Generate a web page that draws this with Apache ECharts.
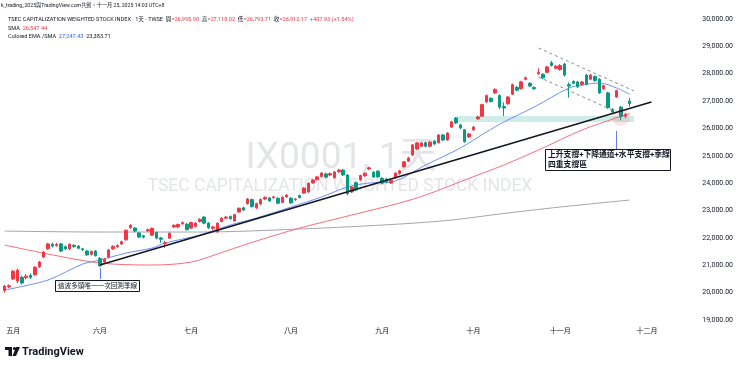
<!DOCTYPE html>
<html><head><meta charset="utf-8">
<script src="https://cdn.jsdelivr.net/npm/echarts/dist/echarts.min.js"></script>
<style>html,body{margin:0;padding:0;background:#fff}#c{width:740px;height:367px}</style>
</head><body><div id="c"></div>
<script>
// ---- data ----
const dates = ['2025-04-29','2025-04-30',
'2025-05-02','2025-05-05','2025-05-06','2025-05-07','2025-05-08','2025-05-09','2025-05-12','2025-05-13','2025-05-14','2025-05-15','2025-05-16','2025-05-19','2025-05-20','2025-05-21','2025-05-22','2025-05-23','2025-05-26','2025-05-27','2025-05-28','2025-05-29',
'2025-06-02','2025-06-03','2025-06-04','2025-06-05','2025-06-06','2025-06-09','2025-06-10','2025-06-11','2025-06-12','2025-06-13','2025-06-16','2025-06-17','2025-06-18','2025-06-19','2025-06-20','2025-06-23','2025-06-24','2025-06-25','2025-06-26','2025-06-27','2025-06-30',
'2025-07-01','2025-07-02','2025-07-03','2025-07-04','2025-07-07','2025-07-08','2025-07-09','2025-07-10','2025-07-11','2025-07-14','2025-07-15','2025-07-16','2025-07-17','2025-07-18','2025-07-21','2025-07-22','2025-07-23','2025-07-24','2025-07-25','2025-07-28','2025-07-29','2025-07-30','2025-07-31',
'2025-08-01','2025-08-04','2025-08-05','2025-08-06','2025-08-07','2025-08-08','2025-08-11','2025-08-12','2025-08-13','2025-08-14','2025-08-15','2025-08-18','2025-08-19','2025-08-20','2025-08-21','2025-08-22','2025-08-25','2025-08-26','2025-08-27','2025-08-28','2025-08-29',
'2025-09-01','2025-09-02','2025-09-03','2025-09-04','2025-09-05','2025-09-08','2025-09-09','2025-09-10','2025-09-11','2025-09-12','2025-09-15','2025-09-16','2025-09-17','2025-09-18','2025-09-19','2025-09-22','2025-09-23','2025-09-24','2025-09-25','2025-09-26','2025-09-30',
'2025-10-01','2025-10-02','2025-10-03','2025-10-07','2025-10-08','2025-10-09','2025-10-13','2025-10-14','2025-10-15','2025-10-16','2025-10-17','2025-10-20','2025-10-21','2025-10-22','2025-10-23','2025-10-27','2025-10-28','2025-10-29','2025-10-30','2025-10-31',
'2025-11-03','2025-11-04','2025-11-05','2025-11-06','2025-11-07','2025-11-10','2025-11-11','2025-11-12','2025-11-13','2025-11-14','2025-11-17','2025-11-18','2025-11-19','2025-11-20','2025-11-21','2025-11-24','2025-11-25',
'2025-11-26','2025-11-27','2025-11-28','2025-12-01','2025-12-02','2025-12-03','2025-12-04','2025-12-05','2025-12-08','2025-12-09','2025-12-10','2025-12-11','2025-12-12','2025-12-15','2025-12-16'];

const opens = [20080,20210,
20500,20420,20560,20540,20630,20650,20950,21300,21600,21770,21720,21780,21680,21600,21730,21700,21600,21520,21400,21520,
21250,21120,21300,21600,21680,21780,21930,22380,22360,22180,22080,22260,22100,22200,22000,21800,21990,22400,22400,22520,22500,
22360,22420,22600,22760,22540,22350,22220,22600,22720,22780,22620,22950,23100,23250,23400,23100,23250,23420,23460,23470,23450,23300,23500,
23450,23400,23550,23640,23680,24010,24130,24240,24340,24300,24200,24420,24480,24300,23680,24020,24120,24270,24520,24400,24440,
24180,24150,24010,24200,24350,24600,24800,25030,25250,25350,25480,25350,25540,25480,25760,25580,26050,26380,26130,25950,25690,
25950,26350,26450,26970,27100,27300,27200,26800,26900,27250,27500,27450,27800,27650,27500,28000,27980,28050,28400,28200,
28150,28350,27600,27720,27700,27600,27950,27800,27900,27800,27450,27300,26700,27150,26780,26450,26995.90];

const closes = [20240,20250,
20780,20820,20350,20600,20560,20930,21120,21480,21780,21700,21760,21520,21600,21770,21690,21620,21580,21380,21500,21350,
20980,21220,21560,21690,21720,21860,22280,22460,22250,22030,22030,22300,22350,21990,21950,21820,22170,22460,22490,22560,22300,
22560,22540,22680,22540,22370,22400,22540,22720,22760,22700,22850,23080,23020,23420,23150,23250,23400,23480,23350,23500,23270,23490,23560,
23280,23420,23480,23820,24000,24120,24230,24370,24220,24350,24410,24480,24300,23620,23860,23750,24280,24360,24560,24230,24230,
24000,24050,24100,24370,24450,24780,24920,25400,25470,25470,25350,25500,25430,25760,25580,25830,26240,26200,26020,25520,25800,
26050,26420,26870,27200,26990,27420,26780,26750,27150,27600,27400,27700,27850,27550,27450,28050,27850,28250,28300,28270,
28300,27950,27550,27650,27520,27700,27620,27950,27750,27300,27560,26760,26600,27380,26434,26504.24,26912.17];

const lows = [20000,20160,
20460,20350,20300,20480,20500,20620,20900,21260,21560,21650,21680,21480,21560,21560,21640,21590,21520,21340,21360,21320,
20940,21080,21260,21560,21640,21740,21900,22330,22210,21990,21980,22220,22070,21950,21820,21630,21960,22360,22370,22480,22270,
22330,22390,22560,22500,22330,22280,22190,22570,22680,22660,22600,22920,22980,23220,23110,23060,23200,23380,23320,23430,23230,23270,23460,
23240,23350,23440,23610,23650,23980,24100,24210,24180,24260,24170,24380,24260,23560,23640,23710,24090,24230,24480,24190,24190,
23960,24000,23970,24170,24310,24570,24770,25000,25220,25310,25310,25310,25390,25450,25540,25550,26020,26160,25980,25480,25650,
25910,26320,26420,26940,26950,27260,26700,26450,26870,27220,27360,27420,27760,27510,27410,27960,27810,28020,28260,28160,
28120,27900,27130,27610,27480,27560,27580,27760,27710,27260,27410,26720,26560,27120,26300,26380,26793.71];

const highs = [20280,20300,
20830,20880,20620,20680,20700,20960,21160,21520,21820,21830,21820,21820,21720,21800,21770,21740,21640,21560,21540,21560,
21300,21260,21590,21730,21770,21900,22310,22500,22400,22220,22110,22340,22380,22230,22040,21900,22200,22500,22520,22600,22540,
22590,22580,22720,22800,22580,22440,22570,22760,22800,22820,22880,23120,23140,23460,23440,23290,23440,23520,23500,23540,23490,23520,23600,
23490,23460,23580,23850,24030,24160,24270,24400,24380,24390,24440,24520,24520,24330,23890,24060,24310,24400,24600,24440,24480,
24220,24190,24140,24400,24490,24810,24960,25430,25500,25510,25520,25540,25580,25790,25800,25860,26280,26420,26170,25980,25840,
26090,26470,26900,27240,27140,27470,27250,26950,27190,27640,27560,27740,27900,27690,27540,28200,28020,28290,28470,28320,
28350,28400,27680,27760,27740,27740,27990,27990,27940,27840,27600,27340,26740,27420,26820,26560,27118.02];

// indicator lines: [category index, value]
const ma20Blue = [[0,20095],[10,20460],[18,21045],[22,21191],[28,21447],[34,21630],[37,21813],[45,22105],[52,22471],[58,22727],[66,23129],[73,23494],[79,23860],[84,24006],[89,24042],[97,24664],[105,25285],[111,25870],[115,26235],[122,26784],[130,27478],[133,27588],[137,27661],[141,27480],[144,27247]];
const ma60Red = [[0,21740],[10,21411],[22,21082],[34,21009],[43,21118],[51,21520],[58,21886],[68,22361],[80,22836],[91,23275],[97,23567],[106,24115],[115,24664],[123,25212],[133,25943],[144,26547]];
const ma240Gray = [[0,22250],[22,22215],[45,22215],[68,22325],[91,22507],[103,22653],[114,22873],[128,23129],[144,23384]];

// drawings
const trendLine = [[22,21009],[149,26966]];
const channelUpper = [[123,28940],[145,27370]];
const channelLower = [[123,27880],[140,26670]];
const zoneStart = 104, zoneEnd = 145, zoneLow = 26235, zoneHigh = 26455;
const circlePoint = [[142,26418]];
const arrow1 = [[22,20497],[22,20899]];
const arrow2 = [[141,25212],[141,25906]];

const monthNames = ['一月','二月','三月','四月','五月','六月','七月','八月','九月','十月','十一月','十二月'];
const lastClose = 26912.17;

// ---- chart ----
const FONT = 'Roboto, "Noto Sans CJK TC", sans-serif';
const chart = echarts.init(document.getElementById('c'), null, {renderer:'canvas'});
const candleData = opens.map((o,i)=>[o, closes[i], lows[i], highs[i]]);
const fmt = v => v.toLocaleString('en-US',{minimumFractionDigits:2, maximumFractionDigits:2});
const HF = '5.6px '+FONT;

chart.setOption({
  animation:false,
  backgroundColor:'#ffffff',
  grid:{left:2.35, right:43, top:19, bottom:47},
  xAxis:{type:'category', data:dates, boundaryGap:true,
    axisLine:{show:false}, axisTick:{show:false}, splitLine:{show:false},
    axisLabel:{fontSize:7, color:'#131722', fontFamily:FONT, margin:8,
      interval:(i,v)=> i>0 && v.slice(5,7)!==dates[i-1].slice(5,7),
      formatter:v=>monthNames[parseInt(v.slice(5,7),10)-1]}},
  yAxis:{type:'value', position:'right', min:19000, max:30000, interval:1000, scale:true,
    axisLine:{show:false}, axisTick:{show:false}, splitLine:{show:false},
    axisLabel:{fontSize:7, color:'#131722', fontFamily:FONT, align:'right', margin:36, formatter:fmt}},
  graphic:[
    {type:'text', x:341, y:159, z:-10, style:{text:'IX0001, 1天', font:'37px '+FONT, fill:'#e4e5e8', align:'center', verticalAlign:'middle'}},
    {type:'text', x:340, y:187, z:-10, style:{text:'TSEC CAPITALIZATION WEIGHTED STOCK INDEX', font:'17.5px '+FONT, fill:'#e4e5e8', align:'center', verticalAlign:'middle'}},
    {type:'text', x:1, y:6, style:{text:'k_trading_2025與TradingView.com共創，十一月 25, 2025 14:03 UTC+8', font:'5.2px '+FONT, fill:'#131722', verticalAlign:'middle'}},
    {type:'text', x:8, y:20, style:{text:'{a|TSEC CAPITALIZATION WEIGHTED STOCK INDEX · 1天 · TWSE}  {a|開}{r|=26,995.90}  {a|高}{r|=27,118.02}  {a|低}{r|=26,793.71}  {a|收}{r|=26,912.17}  {r|+407.93 (+1.54%)}', font:HF, verticalAlign:'middle',
      rich:{a:{fill:'#131722', font:HF}, r:{fill:'#f23645', font:HF}}}},
    {type:'text', x:8, y:28.5, style:{text:'{a|SMA}  {r|26,547.44}', font:HF, verticalAlign:'middle',
      rich:{a:{fill:'#131722', font:HF}, r:{fill:'#f23645', font:HF}}}},
    {type:'text', x:8, y:36.5, style:{text:'{a|Colored EMA /SMA}  {b|27,247.43}  {a|23,383.71}', font:HF, verticalAlign:'middle',
      rich:{a:{fill:'#131722', font:HF}, b:{fill:'#2962ff', font:HF}}}},
    // annotation boxes
    {type:'rect', shape:{x:55.5, y:280.5, width:84, height:11}, style:{fill:'#fff', stroke:'#131722', lineWidth:1}, z:50},
    {type:'text', x:58, y:286, z:51, style:{text:'這波多頭唯一一次回測季線', font:'6.6px '+FONT, fill:'#131722', verticalAlign:'middle'}},
    {type:'rect', shape:{x:545.5, y:149.5, width:125, height:21}, style:{fill:'#fff', stroke:'#131722', lineWidth:1}, z:50},
    {type:'text', x:548, y:155.5, z:51, style:{text:'上升支撐+下降通道+水平支撐+季線', font:'bold 7.8px '+FONT, fill:'#131722', verticalAlign:'middle'}},
    {type:'text', x:548, y:165, z:51, style:{text:'四重支撐區', font:'bold 7.8px '+FONT, fill:'#131722', verticalAlign:'middle'}},
    // TradingView logo
    {type:'group', x:5, y:347, children:[
      {type:'rect', shape:{x:0, y:0, width:7, height:3}, style:{fill:'#131722'}},
      {type:'rect', shape:{x:3.5, y:0, width:3.5, height:9}, style:{fill:'#131722'}},
      {type:'circle', shape:{cx:9.5, cy:1.5, r:1.6}, style:{fill:'#131722'}},
      {type:'polygon', shape:{points:[[11,0],[15,0],[11,9],[7.5,9]]}, style:{fill:'#131722'}}
    ]},
    {type:'text', x:22, y:352, style:{text:'TradingView', font:'bold 11px '+FONT, fill:'#131722', verticalAlign:'middle'}}
  ],
  series:[
    {name:'MA240', type:'line', data:ma240Gray, symbol:'none', smooth:0.3, z:3,
      lineStyle:{color:'#a3a6af', width:1}},
    {name:'MA60', type:'line', data:ma60Red, symbol:'none', smooth:0.3, z:3,
      lineStyle:{color:'#f5707b', width:1}},
    {name:'MA20', type:'line', data:ma20Blue, symbol:'none', smooth:0.3, z:3,
      lineStyle:{color:'#6f8ef5', width:1}},
    {name:'K', type:'candlestick', data:candleData, barWidth:3, z:4,
      itemStyle:{color:'#f23645', color0:'#089981', borderColor:'#f23645', borderColor0:'#089981', borderWidth:1},
      markArea:{silent:true, itemStyle:{color:'rgba(34,171,148,0.22)'},
        data:[[{coord:[zoneStart, zoneLow]},{coord:[zoneEnd, zoneHigh]}]]},
      markLine:{silent:true, symbol:'none', lineStyle:{opacity:0},
        data:[{yAxis:lastClose}],
        label:{position:'end', distance:3, formatter:()=>fmt(lastClose), backgroundColor:'#f23645', color:'#fff', fontSize:7, fontFamily:FONT, padding:[1.5,2.5,1,2.5]}}},
    {name:'circle', type:'scatter', data:circlePoint, symbolSize:18, z:5,
      itemStyle:{color:'rgba(242,54,69,0.16)'}},
    {name:'trend', type:'line', data:trendLine, symbol:'none', z:6,
      lineStyle:{color:'#131722', width:1.6},
      markLine:{silent:true, symbol:['none','arrow'], symbolSize:[0,7],
        lineStyle:{color:'#5b7ff5', width:1, type:'solid'}, label:{show:false},
        data:[[{coord:arrow1[0]},{coord:arrow1[1]}],[{coord:arrow2[0]},{coord:arrow2[1]}]]}},
    {name:'chanU', type:'line', data:channelUpper, symbol:'none', z:6,
      lineStyle:{color:'#8a8d96', width:1, type:[3,3]}},
    {name:'chanL', type:'line', data:channelLower, symbol:'none', z:6,
      lineStyle:{color:'#8a8d96', width:1, type:[3,3]}}
  ]
});
</script></body></html>
